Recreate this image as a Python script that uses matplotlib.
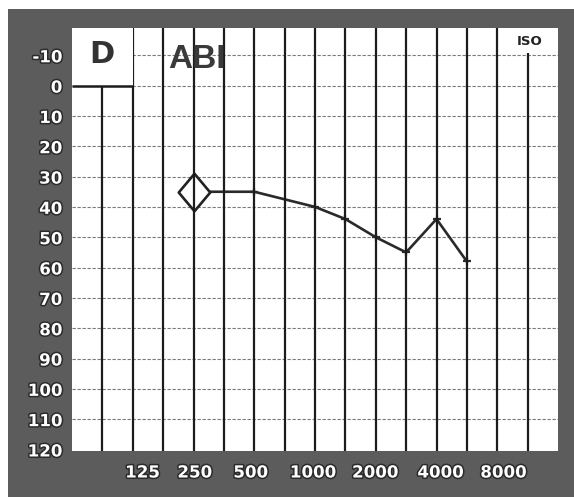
import matplotlib
matplotlib.use("Agg")
import matplotlib.pyplot as plt
import matplotlib.patheffects as pe
from matplotlib.patches import Rectangle
from matplotlib.path import Path

# ---- data ----
grid_freqs = [125, 250, 500, 750, 1000, 1500, 2000, 3000, 4000, 6000, 8000]
freqs = [250, 500, 1000, 1500, 2000, 3000, 4000, 6000]
thresholds = [35, 35, 40, 44, 50, 55, 44, 58]
x_tick_labels = ['125', '250', '500', '1000', '2000', '4000', '8000']
y_ticks = [-10, 0, 10, 20, 30, 40, 50, 60, 70, 80, 90, 100, 110, 120]

# layout: column index on the chart for each grid frequency
grid_cols = [2, 4, 6, 7, 8, 9, 10, 11, 12, 13, 14]
col_of = dict(zip(grid_freqs, grid_cols))
label_nudge = [0.32, 0.04, -0.12, -0.07, -0.02, 0.13, 0.2]

W, H = 574, 497
fig = plt.figure(figsize=(W / 100, H / 100), dpi=100)
fig.patch.set_facecolor('white')
fig.patches.append(Rectangle((8 / W, 0), 1 - 8 / W, 1 - 9 / H,
                             transform=fig.transFigure, facecolor='#5c5c5c',
                             edgecolor='none', zorder=-10))

ax = fig.add_axes([72 / W, 1 - 451 / H, (558 - 72) / W, (451 - 28) / H])
ax.set_zorder(1)
ax.set_facecolor('white')
ax.set_xlim(0, 16)
ax.set_ylim(120.5, -19)
for s in ax.spines.values():
    s.set_visible(False)

# horizontal dashed grid lines
for v in y_ticks[:-1]:
    ax.axhline(v, color='#7a7a7a', lw=0.8, ls=(0, (3, 1.5)), zorder=1)
# vertical solid lines
for k in range(1, 16):
    ax.axvline(k, color='#1c1c1c', lw=1.6, zorder=4)

# D box and ISO box
ax.add_patch(Rectangle((0, -19), 2, 19, facecolor='white', edgecolor='none', zorder=5))
ax.plot([0, 2], [0, 0], color='#1c1c1c', lw=1.8, zorder=6, solid_capstyle='butt')
ax.add_patch(Rectangle((14.05, -19), 1.95, 8.3, facecolor='white', edgecolor='none', zorder=5))

ax.text(1.0, -10.3, 'D', fontsize=22, fontweight='bold', color='#333333',
        ha='center', va='center', zorder=7)
ax.text(4.1, -8.5, 'ABI', fontsize=24, fontweight='bold', color='#3a3a3a',
        family='Liberation Sans', ha='center', va='center', zorder=7)
ax.text(15.05, -14.5, 'ISO', fontsize=9.5, fontweight='bold', color='#222222',
        ha='center', va='center', zorder=7)

# threshold line
xs = [col_of[f] for f in freqs]
ax.plot(xs, thresholds, color='#2a2a2a', lw=1.9, zorder=3)
ax.plot(xs[1:], thresholds[1:], ls='none', marker='+', ms=6, mew=1.6,
        color='#2a2a2a', zorder=3)
diamond = Path([(0, 1), (0.84, 0), (0, -1), (-0.84, 0), (0, 1)],
               [Path.MOVETO, Path.LINETO, Path.LINETO, Path.LINETO, Path.CLOSEPOLY])
ax.plot(xs[:1], thresholds[:1], ls='none', marker=diamond, ms=27,
        mfc='white', mec='#222222', mew=1.9, zorder=3.5)

# ticks
outline = [pe.withStroke(linewidth=2.2, foreground='#2b2b2b')]
ax.set_yticks(y_ticks)
ax.set_yticklabels([str(v) for v in y_ticks])
ax.set_xticks([col_of[int(l)] + n for l, n in zip(x_tick_labels, label_nudge)])
ax.set_xticklabels(x_tick_labels)
ax.tick_params(length=0)
ax.tick_params(axis='y', pad=7)
ax.tick_params(axis='x', pad=9)
for lab in ax.get_xticklabels() + ax.get_yticklabels():
    lab.set_fontsize(12)
    lab.set_fontweight('bold')
    lab.set_color('white')
    lab.set_path_effects(outline)

fig.savefig('out.png', dpi=100)
